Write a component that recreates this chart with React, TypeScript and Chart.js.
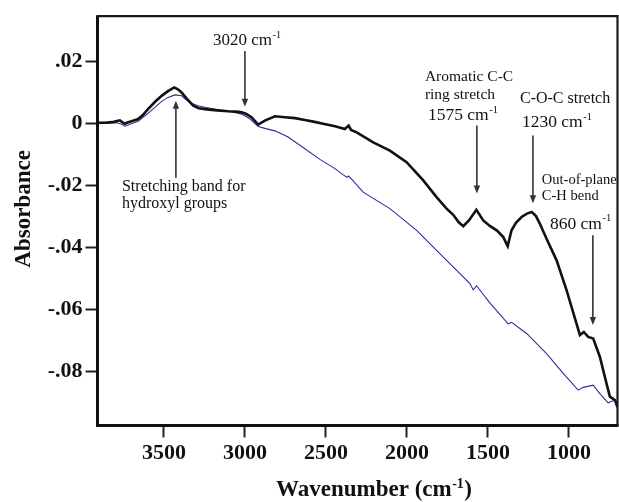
import React, { useEffect, useRef } from "react";
import { Chart, registerables } from "chart.js";

Chart.register(...registerables);

const SERIF = "'Liberation Serif', 'Times New Roman', Times, serif";

// Sample spectrum (black)
const sampleWavenumber = [
  3910, 3865, 3820, 3790, 3772, 3755, 3741, 3725, 3700, 3659, 3630, 3597, 3556, 3514, 3475, 3436, 3414, 3391,
  3358, 3319, 3284, 3247, 3173, 3103, 3050, 3020, 2994, 2959, 2918, 2877, 2815, 2753, 2691, 2630, 2570, 2517,
  2444, 2383, 2360, 2345, 2310, 2208, 2105, 2002, 1899, 1817, 1755, 1714, 1680, 1652, 1617, 1571, 1529, 1488,
  1444, 1405, 1378, 1354, 1327, 1292, 1259, 1230, 1203, 1179, 1138, 1076, 1014, 953, 932, 908, 881, 850, 809,
  768, 747, 716, 700,
];
const sampleAbsorbance = [
  0.0003, 0.0003, 0.0005, 0.0009, 0.0011, 0.0004, 0.0, 0.0004, 0.0008, 0.0015, 0.0028, 0.0048, 0.007, 0.009,
  0.0105, 0.0117, 0.0111, 0.0101, 0.008, 0.0058, 0.005, 0.0047, 0.0043, 0.004, 0.0039, 0.0037, 0.0032, 0.0021,
  -0.0003, 0.001, 0.0024, 0.0021, 0.0018, 0.0012, 0.0006, 0.0, -0.0008, -0.0017, -0.0006, -0.002, -0.0028,
  -0.006, -0.0087, -0.0124, -0.0183, -0.0237, -0.0274, -0.0294, -0.0318, -0.0331, -0.0312, -0.0278, -0.0312,
  -0.033, -0.0345, -0.0366, -0.0395, -0.0344, -0.032, -0.0301, -0.029, -0.0285, -0.0298, -0.0323, -0.0371,
  -0.0441, -0.0538, -0.0645, -0.0682, -0.0672, -0.0688, -0.0693, -0.0752, -0.0838, -0.0881, -0.0892, -0.0915,
];

// Reference spectrum (blue)
const referenceWavenumber = [
  3910, 3850, 3790, 3760, 3741, 3710, 3659, 3597, 3556, 3514, 3475, 3432, 3391, 3364, 3329, 3290, 3247, 3173,
  3103, 3050, 3020, 2969, 2918, 2877, 2815, 2733, 2630, 2537, 2444, 2393, 2370, 2360, 2340, 2270, 2105, 1940,
  1817, 1755, 1693, 1611, 1591, 1570, 1488, 1375, 1354, 1261, 1138, 1035, 943, 912, 850, 809, 758, 716, 700,
];
const referenceAbsorbance = [
  0.0002, 0.0002, 0.0003, -0.0002, -0.0008, -0.0002, 0.0008, 0.0034, 0.0053, 0.0072, 0.0085, 0.0093, 0.009,
  0.0078, 0.0066, 0.0058, 0.0053, 0.0046, 0.004, 0.0035, 0.0031, 0.0016, -0.0009, -0.0015, -0.0023, -0.0043,
  -0.0081, -0.0115, -0.0145, -0.0165, -0.0173, -0.0169, -0.018, -0.0221, -0.0274, -0.0344, -0.0409, -0.0441,
  -0.0473, -0.0516, -0.0536, -0.0523, -0.0578, -0.0646, -0.0641, -0.0677, -0.0742, -0.0806, -0.086, -0.0851,
  -0.0844, -0.0871, -0.0901, -0.0892, -0.0905,
];

const xTickValues = [3500, 3000, 2500, 2000, 1500, 1000];
const xTickLabels = ["3500", "3000", "2500", "2000", "1500", "1000"];
const yTickValues = [0.02, 0, -0.02, -0.04, -0.06, -0.08];
const yTickLabels = [".02", "0", "-.02", "-.04", "-.06", "-.08"];
const xMin = 700;
const xMax = 3910;
const yMin = -0.0974;
const yMax = 0.0347;

const xTitle = "Wavenumber (cm";
const xTitleSup = "-1";
const yTitle = "Absorbance";

// Annotations anchored in data units (wavenumber, absorbance)
const noteTexts = [
  { text: "3020 cm", sup: "-1", wn: 3197, ab: 0.0268, size: 17 },
  { text: "Stretching band for", sup: "", wn: 3759, ab: -0.0203, size: 16 },
  { text: "hydroxyl groups", sup: "", wn: 3759, ab: -0.0257, size: 16 },
  { text: "Aromatic C-C", sup: "", wn: 1889, ab: 0.0152, size: 15.5 },
  { text: "ring stretch", sup: "", wn: 1889, ab: 0.0094, size: 15.5 },
  { text: "1575 cm", sup: "-1", wn: 1870, ab: 0.0026, size: 17.5 },
  { text: "C-O-C stretch", sup: "", wn: 1302, ab: 0.0081, size: 16 },
  { text: "1230 cm", sup: "-1", wn: 1290, ab: 0.0003, size: 17.5 },
  { text: "Out-of-plane", sup: "", wn: 1167, ab: -0.0183, size: 14.5 },
  { text: "C-H bend", sup: "", wn: 1167, ab: -0.0235, size: 14.5 },
  { text: "860 cm", sup: "-1", wn: 1117, ab: -0.0325, size: 17.5 },
];
const noteArrows = [
  { wn: 3000, from: 0.0235, to: 0.0055 },
  { wn: 3426, from: -0.0174, to: 0.0074 },
  { wn: 1568, from: -0.0006, to: -0.0225 },
  { wn: 1222, from: -0.0038, to: -0.0257 },
  { wn: 852, from: -0.036, to: -0.065 },
];

function drawRich(ctx: CanvasRenderingContext2D, x: number, y: number, main: string, sup: string, size: number, weight: string, align: "left" | "center") {
  ctx.font = `${weight} ${size}px ${SERIF}`;
  const wMain = ctx.measureText(main).width;
  ctx.font = `${weight} ${size * 0.6}px ${SERIF}`;
  const wSup = sup ? ctx.measureText(sup).width : 0;
  let x0 = x;
  if (align === "center") x0 = x - (wMain + wSup) / 2;
  ctx.textAlign = "left";
  ctx.textBaseline = "middle";
  ctx.font = `${weight} ${size}px ${SERIF}`;
  ctx.fillText(main, x0, y);
  if (sup) {
    ctx.font = `${weight} ${size * 0.6}px ${SERIF}`;
    ctx.fillText(sup, x0 + wMain + 0.5, y - size * 0.33);
  }
  return x0 + wMain + wSup;
}

const decorPlugin = {
  id: "decor",
  afterDraw(chart: any) {
    const ctx: CanvasRenderingContext2D = chart.ctx;
    const { left, right, top, bottom } = chart.chartArea;
    const xs = chart.scales.x;
    const ys = chart.scales.y;
    ctx.save();
    // frame
    ctx.strokeStyle = "#1a1a1a";
    ctx.lineWidth = 2.2;
    ctx.beginPath();
    ctx.moveTo(left, top);
    ctx.lineTo(right, top);
    ctx.lineTo(right, bottom);
    ctx.stroke();
    ctx.lineWidth = 3;
    ctx.strokeStyle = "#111";
    ctx.beginPath();
    ctx.moveTo(left, top - 1);
    ctx.lineTo(left, bottom);
    ctx.lineTo(right + 1, bottom);
    ctx.stroke();

    // arrows
    ctx.strokeStyle = "#333";
    ctx.fillStyle = "#333";
    ctx.lineWidth = 1.6;
    for (const a of noteArrows) {
      const x = xs.getPixelForValue(a.wn);
      const y1 = ys.getPixelForValue(a.from);
      const y2 = ys.getPixelForValue(a.to);
      const dir = y2 > y1 ? 1 : -1;
      ctx.beginPath();
      ctx.moveTo(x, y1);
      ctx.lineTo(x, y2 - dir * 6);
      ctx.stroke();
      ctx.beginPath();
      ctx.moveTo(x, y2);
      ctx.lineTo(x - 3.2, y2 - dir * 8);
      ctx.lineTo(x + 3.2, y2 - dir * 8);
      ctx.closePath();
      ctx.fill();
    }

    // texts
    ctx.fillStyle = "#111";
    for (const t of noteTexts) {
      const x = xs.getPixelForValue(t.wn);
      const y = ys.getPixelForValue(t.ab);
      drawRich(ctx, x, y, t.text, t.sup, t.size, "normal", "left");
    }

    // axis titles
    ctx.fillStyle = "#111";
    const cx = (left + right) / 2 + 16;
    const main = xTitle;
    ctx.font = `bold 23px ${SERIF}`;
    const w1 = ctx.measureText(main).width;
    ctx.font = `bold 14px ${SERIF}`;
    const w2 = ctx.measureText(xTitleSup).width;
    ctx.font = `bold 23px ${SERIF}`;
    const w3 = ctx.measureText(")").width;
    const x0 = cx - (w1 + w2 + w3) / 2;
    const ty = 490;
    ctx.textAlign = "left";
    ctx.textBaseline = "middle";
    ctx.fillText(main, x0, ty);
    ctx.font = `bold 14px ${SERIF}`;
    ctx.fillText(xTitleSup, x0 + w1 + 0.5, ty - 6);
    ctx.font = `bold 23px ${SERIF}`;
    ctx.fillText(")", x0 + w1 + w2 + 1, ty);

    ctx.save();
    ctx.translate(24, (top + bottom) / 2 - 12);
    ctx.rotate(-Math.PI / 2);
    ctx.textAlign = "center";
    ctx.textBaseline = "middle";
    ctx.font = `bold 23px ${SERIF}`;
    ctx.fillText(yTitle, 0, 0);
    ctx.restore();

    ctx.restore();
  },
};

export default function App() {
  const canvasRef = useRef<HTMLCanvasElement | null>(null);

  useEffect(() => {
    const canvas = canvasRef.current;
    if (!canvas) return;
    const sample = sampleWavenumber.map((x, i) => ({ x, y: sampleAbsorbance[i] }));
    const reference = referenceWavenumber.map((x, i) => ({ x, y: referenceAbsorbance[i] }));
    const tickFont = { family: SERIF, size: 22, weight: "bold" as const };
    const chart = new Chart(canvas, {
      type: "line",
      data: {
        datasets: [
          {
            label: "Sample",
            data: sample,
            borderColor: "#111111",
            borderWidth: 2.6,
            pointRadius: 0,
            tension: 0,
            fill: false,
          },
          {
            label: "Reference",
            data: reference,
            borderColor: "#2e2e9c",
            borderWidth: 1.1,
            pointRadius: 0,
            tension: 0,
            fill: false,
          },
        ],
      },
      options: {
        responsive: false,
        animation: false,
        devicePixelRatio: 1,
        layout: { padding: { top: 15.5, right: 1.5, left: 0, bottom: 0 } },
        plugins: { legend: { display: false }, tooltip: { enabled: false }, title: { display: false } },
        scales: {
          x: {
            type: "linear",
            reverse: true,
            min: xMin,
            max: xMax,
            afterBuildTicks: (scale: any) => {
              scale.ticks = xTickValues.map((v) => ({ value: v }));
            },
            afterFit: (scale: any) => {
              scale.height = 76.5;
            },
            ticks: {
              font: tickFont,
              color: "#111",
              padding: 3,
              maxRotation: 0,
              autoSkip: false,
              callback: (v: any) => {
                const i = xTickValues.indexOf(Number(v));
                return i >= 0 ? xTickLabels[i] : "";
              },
            },
            grid: { display: true, drawOnChartArea: false, drawTicks: true, tickLength: 12, tickWidth: 2, tickColor: "#222" },
            border: { display: false },
            title: { display: false },
          },
          y: {
            type: "linear",
            min: yMin,
            max: yMax,
            afterBuildTicks: (scale: any) => {
              scale.ticks = yTickValues.map((v) => ({ value: v }));
            },
            afterFit: (scale: any) => {
              scale.width = 97.5;
            },
            ticks: {
              font: tickFont,
              color: "#111",
              padding: 3,
              autoSkip: false,
              callback: (v: any) => {
                const i = yTickValues.findIndex((t) => Math.abs(t - Number(v)) < 1e-9);
                return i >= 0 ? yTickLabels[i] : "";
              },
            },
            grid: { display: true, drawOnChartArea: false, drawTicks: true, tickLength: 12, tickWidth: 2, tickColor: "#222" },
            border: { display: false },
            title: { display: false },
          },
        },
      },
      plugins: [decorPlugin],
    });
    return () => chart.destroy();
  }, []);

  return (
    <div style={{ position: "fixed", left: 0, top: 0, width: 619, height: 502, background: "#fff" }}>
      <canvas ref={canvasRef} width={619} height={502} style={{ display: "block", width: 619, height: 502 }} />
    </div>
  );
}
